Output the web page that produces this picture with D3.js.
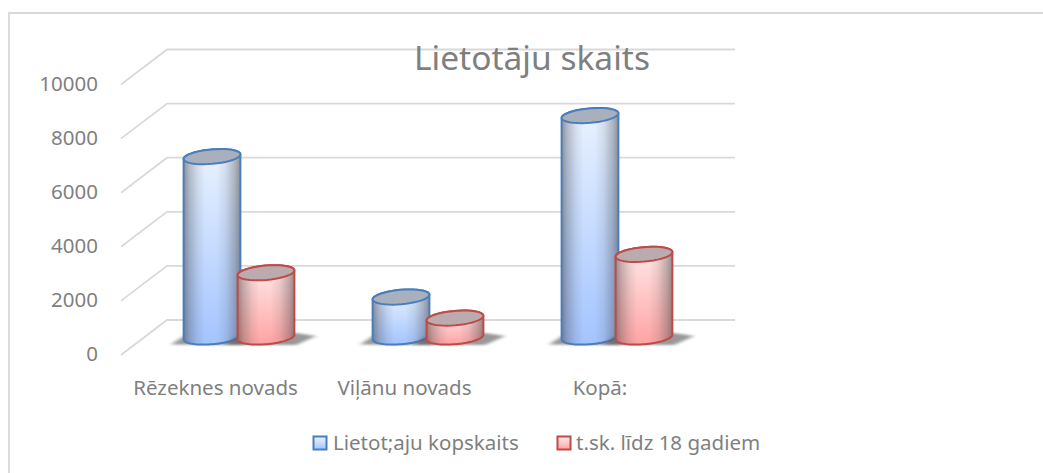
<!DOCTYPE html>
<html><head><meta charset="utf-8">
<script src="https://cdnjs.cloudflare.com/ajax/libs/d3/7.8.5/d3.min.js"></script>
<style>html,body{margin:0;padding:0;background:#fff}svg{display:block}text{font-family:"Noto Sans",sans-serif;fill:#7f7f7f}</style>
</head><body><div id="c"></div>
<script>
const categories=["Rēzeknes novads","Viļānu novads","Kopā:"];
const seriesNames=["Lietot;aju kopskaits","t.sk. līdz 18 gadiem"];
const usersTotal=[6680,1480,8200];
const usersUnder18=[2380,700,3060];
const yTicks=[0,2000,4000,6000,8000,10000];
const chartTitle="Lietotāju skaits";

const W=1043,H=473;
const svg=d3.select("#c").append("svg").attr("width",W).attr("height",H);
const defs=svg.append("defs");
const pal=[{stroke:"#4a7ebb",top:"#eaf3ff",bot:"#a3c4ff",cap:"#a9b0bd"},{stroke:"#be4b48",top:"#ffeaea",bot:"#ffa3a3",cap:"#bcabae"}];
pal.forEach((p,i)=>{
  const g=defs.append("linearGradient").attr("id","v"+i).attr("x1",0).attr("x2",0).attr("y1",0).attr("y2",1);
  g.append("stop").attr("offset",0).attr("stop-color",p.top);
  g.append("stop").attr("offset",1).attr("stop-color",p.bot);
});
const sh=defs.append("linearGradient").attr("id","sh").attr("x1",0).attr("x2",1).attr("y1",0).attr("y2",0);
[[0,.52],[.1,.3],[.25,.1],[.38,0],[.58,0],[.74,.1],[.9,.32],[1,.52]].forEach(d=>sh.append("stop").attr("offset",d[0]).attr("stop-color","#3c3c3c").attr("stop-opacity",d[1]));
defs.append("filter").attr("id","blur").attr("x","-30%").attr("y","-100%").attr("width","160%").attr("height","300%").append("feGaussianBlur").attr("stdDeviation","2.5 1.2");

svg.append("path").attr("d",d3.line()([[9,473],[9,13],[1043,13]])).attr("fill","none").attr("stroke","#d9d9d9").attr("stroke-width",1.8);

// scales for the three planes of the pseudo-3D chart
const yBack=d3.scaleLinear().domain([0,10000]).range([320,49.5]);
const yFront=d3.scaleLinear().domain([0,10000]).range([355,84.5]);
const yBar=d3.scaleLinear().domain([0,10000]).range([337,67]);
const x=d3.scaleBand().domain(categories).range([144.5,711.5]);

const grid=svg.append("g").attr("fill","none").attr("stroke","#d9d9d9").attr("stroke-width",1.8);
yTicks.forEach(t=>{
  grid.append("path").attr("d",d3.line()([[121,yFront(t)],[167,yBack(t)],[735,yBack(t)]]));
});

svg.append("g").selectAll("text").data(yTicks).join("text")
  .attr("x",98).attr("y",t=>yFront(t)+0.5).attr("text-anchor","end").attr("dominant-baseline","middle")
  .attr("font-size",20.5).text(t=>t);

const rx=28.5,ry=7.2,a=-5*Math.PI/180;
const ell=(cx,cy,t)=>[cx+rx*Math.cos(t)*Math.cos(a)-ry*Math.sin(t)*Math.sin(a),cy+rx*Math.cos(t)*Math.sin(a)+ry*Math.sin(t)*Math.cos(a)];
const arc=(cx,cy,t0,t1)=>d3.range(0,41).map(i=>ell(cx,cy,t0+(t1-t0)*i/40));
const line=d3.line();
function drawBar(gp,cx,v,i){
  const p=pal[i],yt=yBar(v),yb=yBar(0);
  const outline=[...arc(cx,yb,Math.PI,0),...arc(cx,yt,0,-Math.PI)];
  const body=line(outline)+"Z";
  gp.append("path").attr("d",line([[cx-41,yb+7.5],[cx-28,yb-1],[cx+30,yb-4],[cx+50,yb-1],[cx+30,yb+8]])+"Z")
    .attr("fill","#555").attr("opacity",.6).attr("filter","url(#blur)");
  gp.append("path").attr("d",body).attr("fill",`url(#v${i})`);
  gp.append("path").attr("d",body).attr("fill","url(#sh)");
  gp.append("path").attr("d",body).attr("fill","none").attr("stroke",p.stroke).attr("stroke-width",2);
  gp.append("path").attr("d",line(arc(cx,yt,0,2*Math.PI))+"Z").attr("fill",p.cap).attr("stroke",p.stroke).attr("stroke-width",2);
}
const bars=svg.append("g");
categories.forEach((c,k)=>{
  const cx=x(c)+x.bandwidth()/2;
  drawBar(bars.append("g"),cx-27,usersTotal[k],0);
  drawBar(bars.append("g"),cx+27,usersUnder18[k],1);
});

svg.append("text").attr("x",532).attr("y",70).attr("text-anchor","middle").attr("font-size",33.5).text(chartTitle);

svg.append("g").selectAll("text").data(categories).join("text")
  .attr("x",(c,k)=>[215.5,404.5,600][k]).attr("y",395).attr("text-anchor","middle").attr("font-size",20.5).text(c=>c);

const lx=[313.5,557.5],tx=[333,576];
seriesNames.forEach((s,i)=>{
  svg.append("rect").attr("x",lx[i]).attr("y",436.5).attr("width",13).attr("height",13)
    .attr("fill",`url(#v${i})`).attr("stroke",pal[i].stroke).attr("stroke-width",2);
  svg.append("text").attr("x",tx[i]).attr("y",450).attr("font-size",20.5).text(s);
});
</script></body></html>
